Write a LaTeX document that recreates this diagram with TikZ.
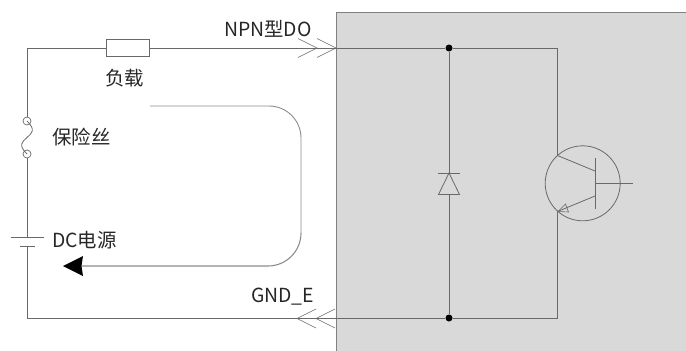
\documentclass[tikz,border=0pt]{standalone}
\usepackage{fontspec}
\setmainfont{Noto Sans CJK SC}
\usetikzlibrary{arrows.meta}
\definecolor{wirec}{RGB}{105,105,105}
\definecolor{panelc}{RGB}{217,217,217}
\tikzset{
  wire/.style={draw=wirec,line width=0.9pt},
  thinw/.style={draw=wirec,line width=0.8pt},
  lbl/.style={font=\fontsize{19.4}{21}\selectfont,text=black!85,inner sep=0pt,anchor=west},
  dot/.style={circle,fill=black,inner sep=0pt,minimum size=7pt},
  junc/.style={inner sep=0pt,minimum size=0pt}
}
\begin{document}
\begin{tikzpicture}[x=1pt,y=-1pt]
\useasboundingbox (0,0) rectangle (686,351);
\fill[panelc] (336,12) rectangle (686,351);
\draw[draw=gray,line width=0.5pt] (686,12) -- (336,12) -- (336,351);
% nodes
\node[draw=wirec,line width=0.8pt,fill=white,minimum width=42.5pt,minimum height=17pt,inner sep=0pt] (load) at (127.75,48) {};
\node[dot] (dt) at (449,48) {};
\node[dot] (db) at (449,318) {};
\coordinate (tl) at (27,48);
\coordinate (bl) at (27,318);
\coordinate (tr) at (557.5,48);
\coordinate (br) at (557.5,318);
\node[circle,draw=wirec,line width=0.7pt,minimum size=8pt,inner sep=0pt] (f1) at (27,121) {};
\node[circle,draw=wirec,line width=0.7pt,minimum size=8pt,inner sep=0pt] (f2) at (27,154) {};
\coordinate (batl) at (27,237);
\coordinate (bats) at (27,246);
\coordinate (cc) at (557.5,155.5);
\coordinate (ee) at (557.5,211.5);
\coordinate (cb) at (595,171);
\coordinate (eb) at (595,196);
\coordinate (bb) at (595,183.5);
\coordinate (bt) at (633,183.5);
% wires
\draw[wire] (load.west) -- (tl) -- (f1.north);
\draw[wire] (f2.south) -- (batl);
\draw[wire] (bats) -- (bl) -- (db);
\draw[wire] (db) -- (br) -- (ee);
\draw[wire] (load.east) -- (dt) -- (tr) -- (cc);
% fuse
\draw[thinw] (f1.center) .. controls (36,130) and (32,133) .. (27,137.5) .. controls (22,142) and (18,145) .. (f2.center);
% battery
\draw[thinw] (11,237) -- (44,237);
\draw[thinw] (20,246) -- (35,246);
% diode
\draw[wire] (dt) -- (449,173);
\draw[wire] (449,194.5) -- (db);
\draw[thinw] (438,173) -- (460,173);
\draw[thinw] (449,173) -- (438.5,194.5) -- (459.5,194.5) -- cycle;
% chevrons
\draw[thinw,line width=0.6pt] (298,38.5) -- (317,48) -- (298,57.5);
\draw[thinw,line width=0.6pt] (317,38.5) -- (336,48) -- (317,57.5);
\draw[thinw,line width=0.6pt] (316,309) -- (297,318.5) -- (316,328);
\draw[thinw,line width=0.6pt] (335,309) -- (316,318.5) -- (335,328);
% transistor
\draw[thinw] (582.7,183.3) circle (37.5);
\draw[wire] (595,158) -- (595,208.5);
\draw[thinw] (bb) -- (bt);
\draw[thinw] (cc) -- (cb);
\draw[thinw] (eb) -- (ee);
\draw[thinw,line width=0.6pt] (558,211.5) -- (565.5,204) -- (568.5,212) -- cycle;
% loop arrow
\draw[draw=gray!90,line width=0.9pt] (150,106) -- (269,106) arc (-90:0:32) -- (301,233);
\draw[draw=gray!90,line width=1.1pt] (301,233) arc (0:90:33) -- (82,266);
\fill[black] (63,266) -- (83,256) -- (81.5,266) -- (83,276) -- cycle;
% labels
\node[lbl] (l1) at (224,28.5) {NPN型DO};
\node[lbl] (l2) at (105,78.5) {负载};
\node[lbl] (l3) at (52,137) {保险丝};
\node[lbl] (l4) at (52,240.5) {DC电源};
\node[lbl] (l5) at (251,296.5) {GND\_E};
\end{tikzpicture}
\end{document}
